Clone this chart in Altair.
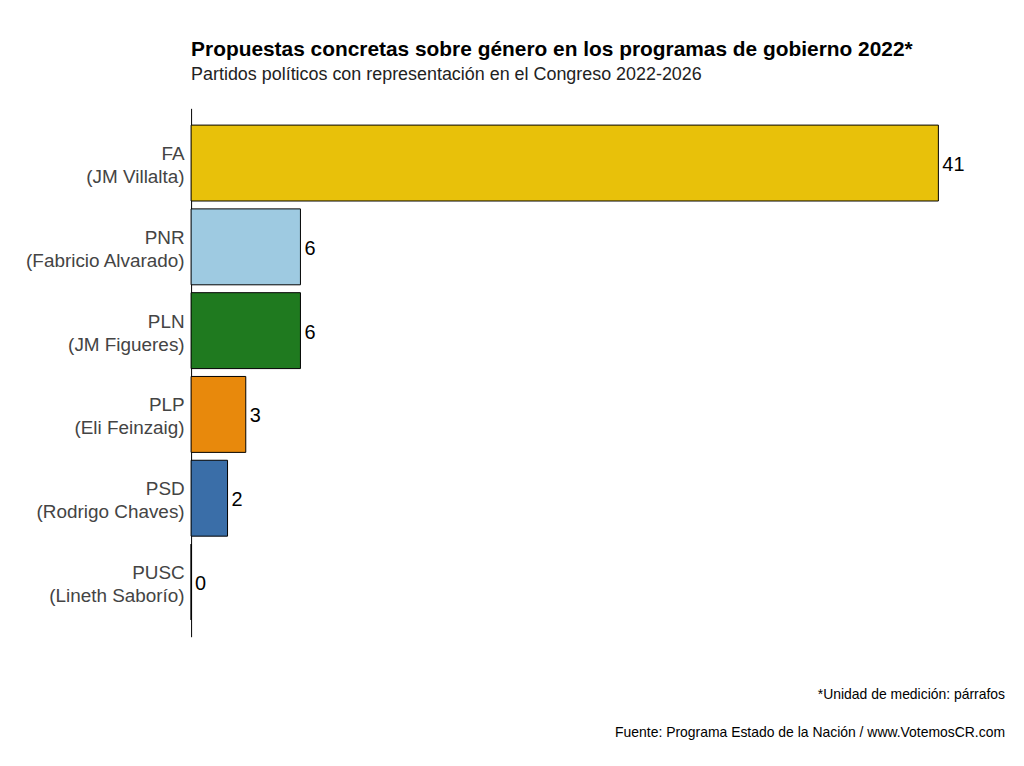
import altair as alt
import pandas as pd

partidos = ["FA|(JM Villalta)", "PNR|(Fabricio Alvarado)", "PLN|(JM Figueres)",
            "PLP|(Eli Feinzaig)", "PSD|(Rodrigo Chaves)", "PUSC|(Lineth Saborío)"]
propuestas = [41, 6, 6, 3, 2, 0]
colores = ["#E8C10A", "#9ECAE1", "#1F7A1F", "#E8890C", "#3A6EA8", "#B8312F"]

df = pd.DataFrame({"partido": partidos, "n": propuestas})

y = alt.Y("partido:N", sort=partidos, title=None,
          scale=alt.Scale(paddingInner=0.094, paddingOuter=0.2),
          axis=alt.Axis(labelExpr="split(datum.label, '|')", labelFontSize=19,
                        labelColor="#444444", labelFont="Liberation Sans",
                        labelLineHeight=23, ticks=False, domainColor="black",
                        labelPadding=7, labelOffset=-9))
x = alt.X("n:Q", scale=alt.Scale(domain=[0, 41], nice=False), axis=None)

bars = alt.Chart(df).mark_bar(stroke="black", strokeWidth=1).encode(
    x=x, y=y,
    color=alt.Color("partido:N", scale=alt.Scale(domain=partidos, range=colores), legend=None),
)
labels = alt.Chart(df).mark_text(align="left", dx=4, dy=2, fontSize=20, font="Liberation Sans",
                                 color="black").encode(x=x, y=y, text="n:Q")

notes = pd.DataFrame({"t": ["*Unidad de medición: párrafos",
                            "Fuente: Programa Estado de la Nación / www.VotemosCR.com"],
                      "py": [590, 628]})
foot = alt.Chart(notes).mark_text(align="right", fontSize=14, font="Liberation Sans",
                                  color="black").encode(
    x=alt.value(818), y=alt.Y("py:Q", scale=None), text="t:N")

chart = (bars + labels + foot).properties(
    width=751, height=531,
    autosize=alt.AutoSizeParams(type="none"),
    padding={"left": 184, "top": 99, "right": 78, "bottom": 110},
    title=alt.Title("Propuestas concretas sobre género en los programas de gobierno 2022*",
                    subtitle="Partidos políticos con representación en el Congreso 2022-2026",
                    anchor="start", frame="group", fontSize=21, font="Liberation Sans",
                    fontWeight="bold", subtitleFontSize=18, subtitleFont="Liberation Sans",
                    subtitleColor="#222222", offset=24, subtitlePadding=7),
).configure_view(stroke=None)

chart.save("out.html", embed_options={"renderer": "svg", "actions": False})
